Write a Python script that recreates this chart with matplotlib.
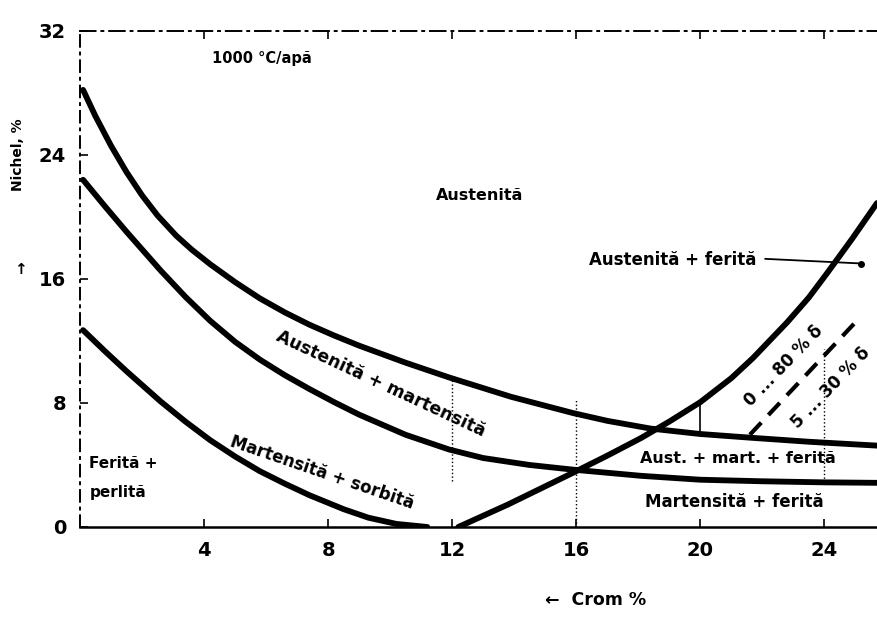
import matplotlib
matplotlib.use("Agg")
import matplotlib.pyplot as plt

# boundary curves, read as (Cr %, Ni %)
cr_a = [0.1, 0.5, 1.0, 1.5, 2.0, 2.5, 3.1, 3.6, 4.2, 5.0, 5.8, 6.6, 7.4, 8.2, 9.0,
        10.5, 11.9, 13.9, 15.9, 17.0, 18.4, 20.0, 21.7, 23.5, 25.7]
ni_a = [28.2, 26.5, 24.6, 22.9, 21.4, 20.1, 18.8, 17.9, 16.95, 15.8, 14.75, 13.85, 13.05, 12.35, 11.7,
        10.6, 9.65, 8.4, 7.35, 6.85, 6.35, 6.0, 5.75, 5.5, 5.25]

cr_b = [0.1, 0.8, 1.5, 2.6, 3.4, 4.2, 5.0, 5.8, 6.6, 7.4, 8.2, 9.0, 10.5, 11.9,
        13.0, 14.5, 15.9, 18.1, 20.0, 22.0, 24.0, 25.7]
ni_b = [22.4, 20.7, 19.05, 16.55, 14.85, 13.3, 11.95, 10.8, 9.8, 8.9, 8.05, 7.25, 5.95, 5.0,
        4.45, 4.0, 3.7, 3.3, 3.05, 2.95, 2.88, 2.85]

cr_c = [0.1, 0.8, 1.5, 2.6, 3.4, 4.2, 5.0, 5.8, 6.6, 7.4, 8.5, 9.3, 10.2, 11.2]
ni_c = [12.7, 11.35, 10.05, 8.1, 6.8, 5.6, 4.55, 3.6, 2.8, 2.05, 1.15, 0.6, 0.2, 0.0]

cr_d = [12.2, 13.8, 15.9, 17.0, 18.1, 19.0, 20.0, 21.0, 21.7, 22.8, 23.5, 24.1, 24.9, 25.7]
ni_d = [0.0, 1.45, 3.5, 4.6, 5.75, 6.8, 8.05, 9.6, 10.9, 13.2, 14.8, 16.4, 18.6, 20.9]

# iso-ferrite dashed line
cr_delta = [21.6, 25.0]
ni_delta = [5.95, 13.2]

# leader for "Austenita + ferita"
cr_lead = [22.1, 25.2]
ni_lead = [17.3, 17.0]

# leftover grid segments between curves
grid_cr = [12, 16, 24]
grid_lo = [3.0, 0.0, 2.9]
grid_hi = [9.5, 8.2, 11.5]

x_ticks = [4, 8, 12, 16, 20, 24]
y_ticks = [0, 8, 16, 24, 32]

fig = plt.figure(figsize=(8.77, 6.25), dpi=100)
ax = fig.add_axes([0.0912, 0.1568, 0.9088, 0.7936])
ax.set_xlim(0, 25.7)
ax.set_ylim(0, 32)

ink = "black"
for xs, ys in [(cr_a, ni_a), (cr_b, ni_b), (cr_c, ni_c), (cr_d, ni_d)]:
    ax.plot(xs, ys, color=ink, lw=4.2, solid_capstyle="round", solid_joinstyle="round")

ax.plot(cr_delta, ni_delta, color=ink, lw=3, linestyle=(0, (4, 2.5)))
ax.plot(cr_lead, ni_lead, color=ink, lw=1.3)
ax.plot(cr_lead[-1:], ni_lead[-1:], "o", color=ink, ms=4)
ax.vlines(grid_cr, grid_lo, grid_hi, colors=ink, lw=1, linestyles=":")
ax.vlines([20], [6.0], [8.0], colors=ink, lw=1.2)

# axes frame
ax.spines["right"].set_visible(False)
ax.spines["bottom"].set_linewidth(1.8)
ax.spines["left"].set_linewidth(1.4)
ax.spines["left"].set_linestyle((0, (6, 3, 1, 3)))
ax.spines["top"].set_linewidth(1.4)
ax.spines["top"].set_linestyle((0, (8, 3, 1, 3)))

ax.set_xticks(x_ticks)
ax.set_yticks(y_ticks)
ax.tick_params(direction="in", length=6, width=1.2, top=True, labeltop=False,
               labelsize=14, pad=10)
for lab in ax.get_xticklabels() + ax.get_yticklabels():
    lab.set_fontweight("bold")

tf = dict(fontweight="bold", color=ink, family="DejaVu Sans")
ax.text(0.583, -0.148, "\u2190  Crom %", transform=ax.transAxes, ha="left",
        va="center", fontsize=12.5, **tf)
ax.text(-0.078, 0.75, "Nichel, %", transform=ax.transAxes, rotation=90,
        ha="center", va="center", fontsize=10, **tf)
ax.text(-0.075, 0.52, "\u2191", transform=ax.transAxes, ha="center",
        va="center", fontsize=11, **tf)

ax.text(4.26, 30.2, "1000 \u00b0C/ap\u0103", ha="left", va="center", fontsize=10.5, **tf)
ax.text(12.9, 21.4, "Austenit\u0103", ha="center", va="center", fontsize=11.5, **tf)
ax.text(19.1, 17.2, "Austenit\u0103 + ferit\u0103", ha="center", va="center", fontsize=12, **tf)
ax.text(9.7, 9.25, "Austenit\u0103 + martensit\u0103", ha="center", va="center",
        rotation=-25, rotation_mode="anchor", fontsize=12.5, **tf)
ax.text(7.8, 3.5, "Martensit\u0103 + sorbit\u0103", ha="center", va="center",
        rotation=-19, rotation_mode="anchor", fontsize=12, **tf)
ax.text(0.3, 4.1, "Ferit\u0103 +", ha="left", va="center", fontsize=11, **tf)
ax.text(0.3, 2.2, "perlit\u0103", ha="left", va="center", fontsize=11, **tf)
ax.text(21.2, 4.4, "Aust. + mart. + ferit\u0103", ha="center", va="center", fontsize=11.5, **tf)
ax.text(21.1, 1.6, "Martensit\u0103 + ferit\u0103", ha="center", va="center", fontsize=12, **tf)
ax.text(22.7, 10.4, "0 ... 80 % \u03b4", ha="center", va="center",
        rotation=46, rotation_mode="anchor", fontsize=12, **tf)
ax.text(24.2, 9.0, "5 ... 30 % \u03b4", ha="center", va="center",
        rotation=46, rotation_mode="anchor", fontsize=12, **tf)

fig.savefig("out.png", dpi=100, facecolor="white")
